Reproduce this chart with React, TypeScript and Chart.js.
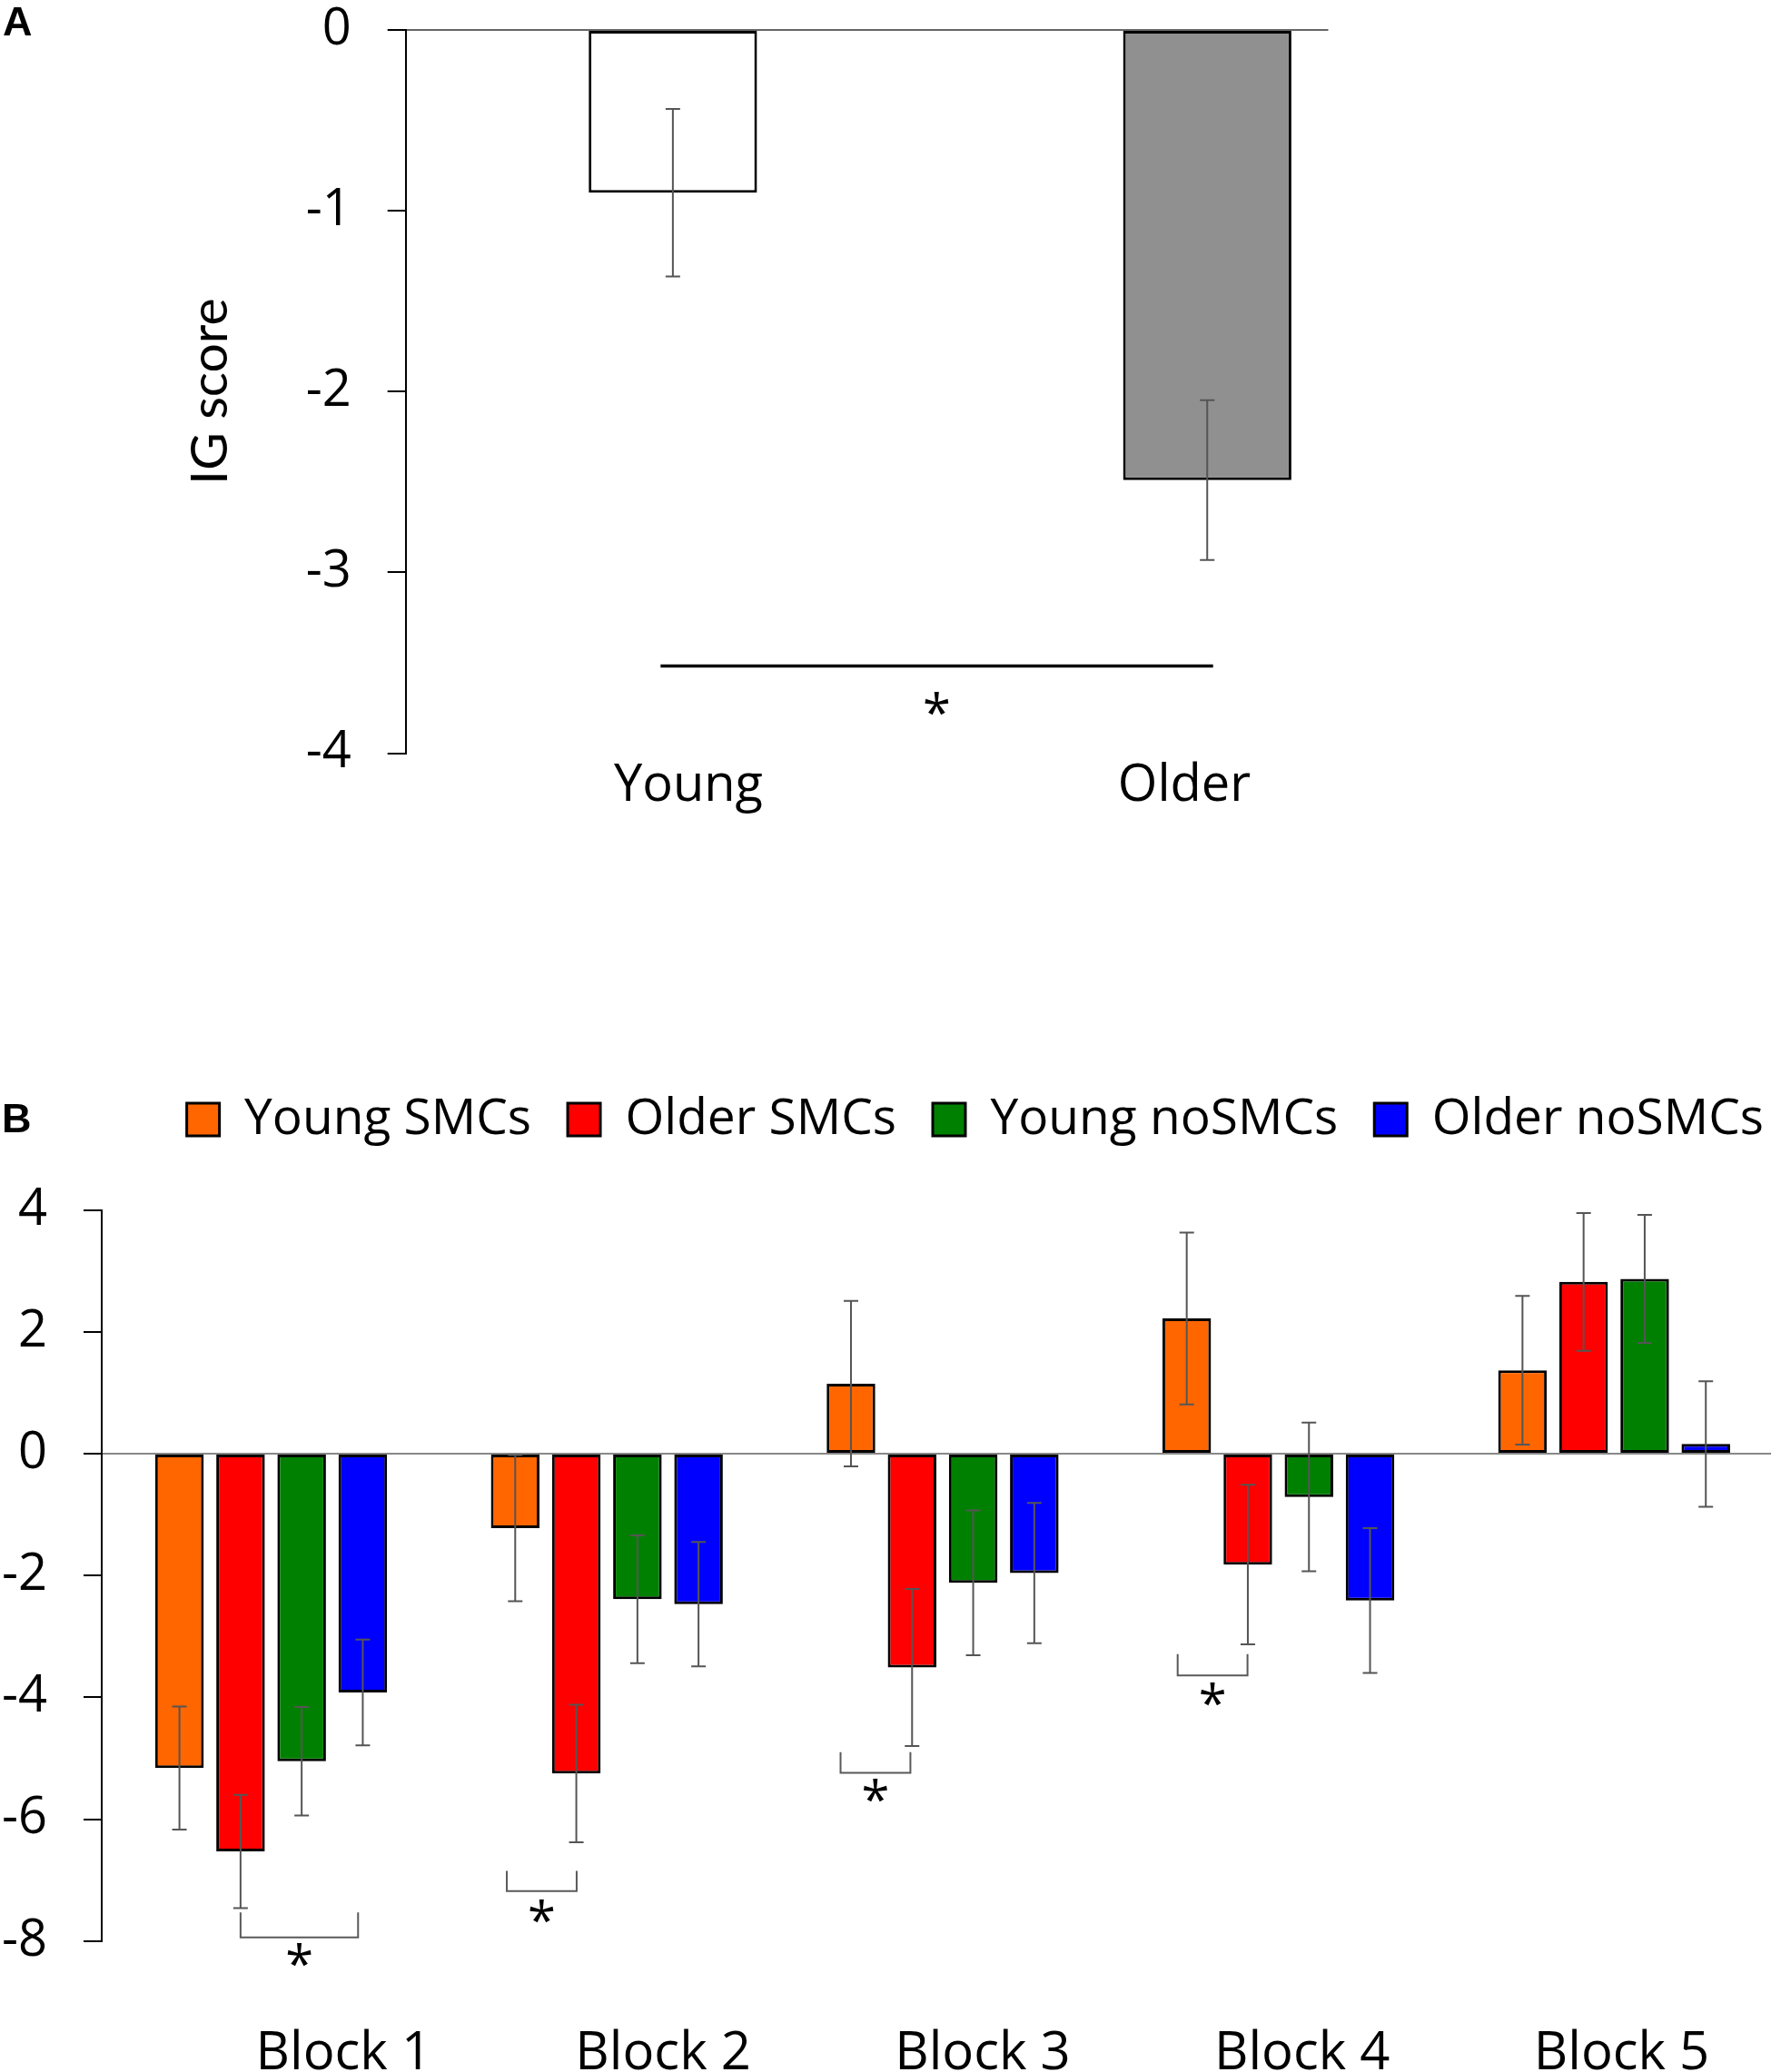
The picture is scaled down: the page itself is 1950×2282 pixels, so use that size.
import { useEffect, useRef } from 'react';
import { Chart, registerables } from 'chart.js';

Chart.register(...registerables);

// ---- Panel A data ----
const groupsA = ['Young', 'Older'];
const igScore = [-0.9, -2.49];
const igError = [0.463, 0.442];
// significance line + star (x in group units, y in IG score units)
const sigA = { x1: 0.977, x2: 2.011, y: -3.518, star: -3.746 };

// ---- Panel B data ----
const blocks = ['Block 1', 'Block 2', 'Block 3', 'Block 4', 'Block 5'];
const seriesNames = ['Young SMCs', 'Older SMCs', 'Young noSMCs', 'Older noSMCs'];
const seriesColors = ['#ff6600', '#ff0000', '#008000', '#0000ff'];
const youngSMCs = [-5.16, -1.22, 1.15, 2.22, 1.37];
const youngSMCsErr = [1.01, 1.2, 1.36, 1.41, 1.22];
const olderSMCs = [-6.53, -5.25, -3.51, -1.82, 2.82];
const olderSMCsErr = [0.93, 1.13, 1.29, 1.31, 1.13];
const youngNoSMCs = [-5.05, -2.39, -2.12, -0.71, 2.87];
const youngNoSMCsErr = [0.89, 1.05, 1.19, 1.22, 1.05];
const olderNoSMCs = [-3.92, -2.47, -1.96, -2.41, 0.16];
const olderNoSMCsErr = [0.87, 1.02, 1.15, 1.19, 1.03];
// brackets: x in block units, y values for bracket top, bottom and star
const sigB = [
  { x1: 0.909, x2: 1.259, top: -7.53, bottom: -7.94, star: -8.29 },
  { x1: 1.702, x2: 1.91, top: -6.85, bottom: -7.18, star: -7.57 },
  { x1: 2.696, x2: 2.904, top: -4.9, bottom: -5.24, star: -5.59 },
  { x1: 3.7, x2: 3.908, top: -3.29, bottom: -3.64, star: -4.01 },
];

const TICK_FONT = { family: '"Open Sans", sans-serif', size: 56 };
const STAR_SIZE = 56;

function errorBarsPlugin(errors: number[][], capHalf: number) {
  return {
    id: 'errorBars',
    afterDatasetsDraw(chart: any) {
      const { ctx } = chart;
      const y = chart.scales.y;
      ctx.save();
      ctx.strokeStyle = '#555555';
      ctx.lineWidth = 2;
      chart.data.datasets.forEach((ds: any, di: number) => {
        const meta = chart.getDatasetMeta(di);
        meta.data.forEach((bar: any, i: number) => {
          const v = ds.data[i].y;
          const e = errors[di][i];
          const top = y.getPixelForValue(v + e);
          const bot = y.getPixelForValue(v - e);
          ctx.beginPath();
          ctx.moveTo(bar.x, top);
          ctx.lineTo(bar.x, bot);
          ctx.moveTo(bar.x - capHalf, top);
          ctx.lineTo(bar.x + capHalf, top);
          ctx.moveTo(bar.x - capHalf, bot);
          ctx.lineTo(bar.x + capHalf, bot);
          ctx.stroke();
        });
      });
      ctx.restore();
    },
  };
}

function drawStar(ctx: CanvasRenderingContext2D, x: number, yCenter: number) {
  ctx.fillStyle = '#000';
  ctx.font = `${STAR_SIZE}px "Open Sans", sans-serif`;
  ctx.textAlign = 'center';
  ctx.textBaseline = 'alphabetic';
  ctx.fillText('*', x, yCenter + STAR_SIZE * 0.47);
}

function panelLetter(letter: string, x: number, y: number) {
  return {
    id: 'panelLetter',
    afterDraw(chart: any) {
      const { ctx } = chart;
      ctx.save();
      ctx.fillStyle = '#000';
      ctx.font = 'bold 45px "Liberation Sans", Arial, sans-serif';
      ctx.textAlign = 'left';
      ctx.textBaseline = 'alphabetic';
      ctx.fillText(letter, x, y);
      ctx.restore();
    },
  };
}

function legendHeight(height: number) {
  return {
    id: 'legendHeight',
    beforeInit(chart: any) {
      const legend = chart.legend;
      if (!legend) return;
      const fit = legend.fit;
      legend.fit = function () {
        fit.call(this);
        this.height = height;
      };
    },
  };
}

function PanelA() {
  const ref = useRef<HTMLCanvasElement>(null);
  useEffect(() => {
    if (!ref.current) return;
    const sigPlugin = {
      id: 'sigA',
      afterDraw(chart: any) {
        const { ctx } = chart;
        const x = chart.scales.x;
        const y = chart.scales.y;
        ctx.save();
        ctx.strokeStyle = '#000';
        ctx.lineWidth = 3.3;
        const yy = y.getPixelForValue(sigA.y);
        ctx.beginPath();
        ctx.moveTo(x.getPixelForValue(sigA.x1), yy);
        ctx.lineTo(x.getPixelForValue(sigA.x2), yy);
        ctx.stroke();
        drawStar(ctx, x.getPixelForValue((sigA.x1 + sigA.x2) / 2), y.getPixelForValue(sigA.star));
        ctx.restore();
      },
    };
    const chart = new Chart(ref.current, {
      type: 'bar',
      data: {
        datasets: [
          {
            label: 'IG score',
            data: igScore.map((v, i) => ({ x: i + 1, y: v })),
            backgroundColor: ['#ffffff', '#909090'],
            borderColor: '#000',
            borderWidth: 3,
            borderSkipped: false,
            barPercentage: 0.315,
            categoryPercentage: 1,
          } as any,
        ],
      },
      options: {
        responsive: false,
        animation: false,
        events: [],
        layout: { padding: { top: 33, right: 487.5, left: 0, bottom: 0 } },
        plugins: { legend: { display: false }, tooltip: { enabled: false } },
        scales: {
          x: {
            type: 'linear',
            display: false,
            offset: false,
            min: 0.5,
            max: 2.2265,
            afterBuildTicks: (s: any) => {
              s.ticks = groupsA.map((_, i) => ({ value: i + 1 }));
            },
          },
          xLabels: {
            type: 'linear',
            position: 'bottom',
            offset: false,
            min: 0.43,
            max: 2.2903,
            afterBuildTicks: (s: any) => {
              s.ticks = groupsA.map((_, i) => ({ value: i + 1 }));
            },
            afterFit: (s: any) => {
              s.height = 170.5;
            },
            grid: { display: false, drawTicks: false, offset: false },
            border: { display: false },
            ticks: {
              autoSkip: false,
              maxRotation: 0,
              padding: 3,
              color: '#000',
              font: TICK_FONT,
              callback: (_v: any, i: number) => groupsA[i],
            },
          },
          y: {
            min: -4,
            max: 0,
            afterFit: (s: any) => {
              s.width = 446.7;
              s.paddingTop = 0;
              s.paddingBottom = 0;
            },
            ticks: { stepSize: 1, padding: 40, color: '#000', font: TICK_FONT },
            grid: {
              drawOnChartArea: true,
              color: (c: any) => (c.tick && c.tick.value === 0 ? '#666666' : 'rgba(0,0,0,0)'),
              tickColor: '#000',
              tickLength: 20,
              lineWidth: 2,
            },
            border: { color: '#000', width: 2 },
            title: {
              display: true,
              text: 'IG score',
              color: '#000',
              font: { family: 'Lato, sans-serif', size: 57 },
              padding: { top: 197.8, bottom: 0 },
            },
          },
        } as any,
      },
      plugins: [errorBarsPlugin([igError], 8), sigPlugin, panelLetter('A', 3, 39)],
    });
    return () => chart.destroy();
  }, []);
  return (
    <canvas
      ref={ref}
      width={1950}
      height={1000}
      style={{ position: 'absolute', left: 0, top: 0, display: 'block' }}
    />
  );
}

function PanelB() {
  const ref = useRef<HTMLCanvasElement>(null);
  useEffect(() => {
    if (!ref.current) return;
    const series = [youngSMCs, olderSMCs, youngNoSMCs, olderNoSMCs];
    const errors = [youngSMCsErr, olderSMCsErr, youngNoSMCsErr, olderNoSMCsErr];
    const sigPlugin = {
      id: 'sigB',
      afterDraw(chart: any) {
        const { ctx } = chart;
        const x = chart.scales.x;
        const y = chart.scales.y;
        ctx.save();
        ctx.strokeStyle = '#595959';
        ctx.lineWidth = 2;
        sigB.forEach((s) => {
          const x1 = x.getPixelForValue(s.x1);
          const x2 = x.getPixelForValue(s.x2);
          const t = y.getPixelForValue(s.top);
          const b = y.getPixelForValue(s.bottom);
          ctx.beginPath();
          ctx.moveTo(x1, t);
          ctx.lineTo(x1, b);
          ctx.lineTo(x2, b);
          ctx.lineTo(x2, t);
          ctx.stroke();
          drawStar(ctx, (x1 + x2) / 2, y.getPixelForValue(s.star));
        });
        ctx.restore();
      },
    };
    const chart = new Chart(ref.current, {
      type: 'bar',
      data: {
        datasets: series.map((vals, di) => ({
          label: seriesNames[di],
          data: vals.map((v, i) => ({ x: i + 1, y: v })),
          backgroundColor: seriesColors[di],
          borderColor: '#000',
          borderWidth: 3,
          borderSkipped: false,
          barPercentage: 0.795,
          categoryPercentage: 0.728,
        })) as any,
      },
      options: {
        responsive: false,
        animation: false,
        events: [],
        layout: { padding: { top: 15.5, right: 8, left: 0, bottom: 0 } },
        plugins: {
          tooltip: { enabled: false },
          legend: {
            position: 'top',
            align: 'end',
            labels: {
              boxWidth: 36,
              boxHeight: 36,
              padding: 40,
              color: '#000',
              font: { family: '"Open Sans", sans-serif', size: 55 },
            },
          },
        },
        scales: {
          x: {
            type: 'linear',
            display: false,
            offset: false,
            min: 0.4955,
            max: 5.5537,
            afterBuildTicks: (s: any) => {
              s.ticks = blocks.map((_, i) => ({ value: i + 1 }));
            },
          },
          xLabels: {
            type: 'linear',
            position: 'bottom',
            offset: false,
            min: 0.243,
            max: 5.5585,
            afterBuildTicks: (s: any) => {
              s.ticks = blocks.map((_, i) => ({ value: i + 1 }));
            },
            afterFit: (s: any) => {
              s.height = 144.3;
            },
            grid: { display: false, drawTicks: false, offset: false },
            border: { display: false },
            ticks: {
              autoSkip: false,
              maxRotation: 0,
              padding: 90,
              color: '#000',
              font: { family: '"Open Sans", sans-serif', size: 58 },
              callback: (_v: any, i: number) => blocks[i],
            },
          },
          y: {
            min: -8,
            max: 4,
            afterFit: (s: any) => {
              s.width = 112;
            },
            ticks: { stepSize: 2, padding: 40, color: '#000', font: TICK_FONT },
            grid: {
              drawOnChartArea: true,
              color: (c: any) => (c.tick && c.tick.value === 0 ? '#888888' : 'rgba(0,0,0,0)'),
              tickColor: '#000',
              tickLength: 20,
              lineWidth: 2,
            },
            border: { color: '#000', width: 2 },
          },
        } as any,
      },
      plugins: [legendHeight(167.2), errorBarsPlugin(errors, 8), sigPlugin, panelLetter('B', 2, 97)],
    });
    return () => chart.destroy();
  }, []);
  return (
    <canvas
      ref={ref}
      width={1990}
      height={1132}
      style={{ position: 'absolute', left: 0, top: 1150, display: 'block' }}
    />
  );
}

export default function App() {
  return (
    <div
      style={{
        position: 'absolute',
        left: 0,
        top: 0,
        width: 1950,
        height: 2282,
        overflow: 'hidden',
        background: '#ffffff',
      }}
    >
      <PanelA />
      <PanelB />
    </div>
  );
}
